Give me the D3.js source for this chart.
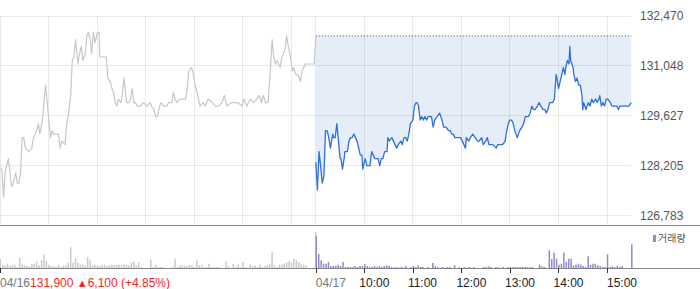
<!DOCTYPE html>
<html lang="ko">
<head>
<meta charset="UTF-8">
<title>Price chart</title>
<script src="https://d3js.org/d3.v7.min.js"></script>
<style>
  body { margin: 0; background: #fff; }
  svg { display: block; font-family: "Liberation Sans", Arial, "Noto Sans CJK KR", sans-serif; }
</style>
</head>
<body>
<svg id="chart" width="700" height="289"></svg>
<script>
  // y axis tick values and previous close
  const priceTicks = [132470, 131048, 129627, 128205, 126783];
  const prevClose = 131900;
  const sessionHours = [9, 10, 11, 12, 13, 14, 15];
  const dateLabels = ["04/16", "04/17"];
  const hourLabels = ["10:00", "11:00", "12:00", "13:00", "14:00", "15:00"];
  const changeText = "131,900";
  const changeArrow = "▲";
  const changeRest = "6,100 (+4.85%)";
  const legendLabel = "거래량";

  // [minutes since 09:00, price]  -- 04/16
  const day1 = [[0,128100],[2,128100],[4,127300],[6,128000],[10,128400],[14,127600],[16,127700],[19,128000],[21,127700],[23,127700],[25,128000],[27,129000],[29,129000],[31,128700],[35,128600],[39,128700],[41,129000],[45,129200],[47,129400],[49,129100],[52,129500],[54,130000],[56,130500],[58,130000],[60,129500],[62,129000],[64,129200],[66,129100],[70,129100],[72,129100],[74,128700],[76,128900],[80,128800],[82,129400],[84,129600],[87,130200],[89,131200],[91,131300],[93,131800],[96,131100],[98,131400],[100,131600],[102,131200],[105,131400],[107,131900],[109,132000],[111,131800],[113,131400],[115,132000],[117,131700],[120,132000],[122,132000],[123,131300],[128,131300],[131,131300],[133,130700],[136,130600],[138,130400],[140,130300],[142,130000],[144,129900],[146,130100],[149,130000],[150,130100],[153,130700],[156,130000],[159,130000],[161,130100],[163,130400],[165,130000],[167,130000],[169,129900],[173,129900],[177,130000],[181,129900],[185,130000],[187,129900],[190,129800],[192,129600],[194,129600],[197,129900],[199,130000],[202,129900],[206,129900],[208,130000],[212,130000],[214,130300],[216,130100],[218,130000],[222,130100],[227,130100],[229,130100],[231,130400],[233,130900],[236,131000],[238,130900],[240,130600],[243,130300],[245,130100],[247,129900],[251,130000],[253,129900],[257,130100],[262,130000],[266,129900],[270,129900],[274,130000],[277,130200],[280,129900],[286,130000],[293,130000],[299,129900],[301,130100],[305,129900],[309,130100],[313,130000],[317,130100],[320,130200],[323,130000],[325,130200],[328,130000],[331,130000],[334,131000],[336,131800],[338,131300],[340,131100],[342,131200],[344,131100],[346,131000],[348,131300],[350,131400],[352,131500],[354,131900],[356,131600],[358,131400],[361,130900],[363,131000],[365,130800],[368,130800],[371,130600],[373,130900],[375,131000],[377,131100],[388,131100],[390,131900]];

  // [minutes since 09:00, price]  -- 04/17
  const day2 = [[0,128300],[2,127500],[4,128600],[5,128400],[8,127700],[10,127900],[12,129200],[14,129200],[15,129100],[16,129000],[18,128700],[21,129100],[22,129000],[24,129000],[26,129400],[28,128900],[30,128400],[31,128400],[33,128100],[35,128400],[36,128600],[39,128600],[41,128900],[43,129000],[45,129000],[47,129100],[49,129000],[51,128900],[54,128600],[55,128500],[57,128500],[58,128100],[61,128400],[62,128300],[63,128200],[67,128200],[69,128600],[71,128500],[73,128400],[75,128400],[77,128400],[79,128200],[81,128400],[83,128400],[85,128600],[88,128600],[89,129000],[91,128900],[94,129000],[96,128900],[98,128800],[100,128700],[102,128800],[105,128900],[107,128800],[109,129000],[111,129000],[113,128900],[115,129100],[117,129400],[120,129500],[122,129900],[124,130000],[125,130000],[127,129900],[129,129500],[131,129600],[133,129500],[135,129600],[137,129500],[139,129600],[141,129600],[143,129600],[145,129300],[147,129500],[150,129600],[153,129700],[156,129500],[158,129300],[161,129300],[164,129200],[166,129200],[168,129100],[170,129100],[172,129000],[174,129000],[176,129000],[179,129000],[181,128900],[183,128800],[185,128700],[186,129000],[189,128900],[191,129000],[194,129100],[197,129000],[200,128900],[202,128900],[205,129000],[207,128800],[210,128900],[212,129000],[214,128800],[217,128800],[219,128800],[223,128700],[225,128800],[227,128800],[231,128800],[234,128900],[236,129200],[238,129400],[240,129500],[242,129500],[244,129400],[246,129200],[249,129000],[252,129200],[255,129300],[257,129400],[259,129600],[261,129600],[263,129600],[265,129700],[267,129900],[269,129800],[271,129800],[274,129900],[276,130000],[278,129900],[281,129800],[283,129800],[285,129700],[287,129800],[289,130000],[293,130000],[295,130100],[297,130800],[298,130700],[300,130400],[302,130600],[304,130800],[306,131000],[308,130800],[309,131000],[311,131200],[313,131100],[314,131600],[315,131200],[318,131000],[319,130800],[321,130600],[323,130700],[325,130500],[327,130500],[329,130200],[330,129800],[331,130000],[334,129800],[337,130000],[339,129900],[341,130100],[343,130000],[346,130100],[348,130000],[350,130100],[351,130200],[353,129900],[355,130000],[357,129900],[359,130100],[361,130100],[364,130000],[366,129900],[370,129900],[372,129900],[374,129800],[376,129900],[380,129900],[384,129900],[387,129900],[390,130000]];

  // volume per 3-minute slot (thousand shares), last slot = 15:30 close
  const day1Volume = [9,3.3,2.7,4.3,2,3.3,3.3,1,10,3.3, 2.7,2,1.5,4.3,4.3,6.7,2.7,7.7,13.3,6.7, 3.3,2,2,1,3.3,1,2,2.7,5.3,20.7, 5.3,10,5.3,3.3,3.3,2.7,11,7.7,2.7,3.3, 2.7,2,3.3,3.3,2,2.7,3.3,2.7,3.3,3.3, 2.7,3.3,3.3,2.7,5.3,6.7,2.7,6,1,0, 0,0,8.7,1,3.3,1,1,1,0,0, 0,1,9.3,1,2.7,2.7,2,2,3.3,2.7, 1,7.7,2.7,2.7,1,1,4.3,1,1,1, 1,0,0,6.7,2,0,4.3,1,3.3,1, 6,1,0,3.3,2,2.7,1,3.3,1,2, 2.7,4.3,16,3.3,1,3.3,3.3,4.3,5.3,6.7, 5.3,9.3,7.7,6,4.3,3.3,2.7,0,0,0,36];
  const day2Volume = [31.7,14,7.7,4.3,4.3,6,2,2,2,3.3, 2,6,1,1,1,1,2,1,2,2, 4,2,1,1,2,1,2,1,2,2.7, 2,1,0.5,1,0.5,1,0.5,2,0,1, 2,1,2.7,1,1,0,1,0,5,2, 1,0,1,0,1,1,0,2.7,0,1, 0,1,0,1,0,1,0,0,0,1, 1,1.7,1,0,1,1,0,1,0,1, 1,1,1,1,1,1,1,1,1,1, 0,0,3.3,1.7,1,0,17.7,9,15.3,9.3, 3.3,4.3,15.3,6,9.3,9.3,2.7,3.3,4.3,3.3, 2,1,11.7,3.3,4.3,4.3,2.7,2,1,1, 13.7,1,2,1,2,1,2,0,0,0,23.7];

  const sessionLen = 390;
  const slotMin = 3;

  const svg = d3.select("#chart");

  const x = d3.scaleLinear().domain([0, sessionLen * 2]).range([0.3, 631.3]);
  const y = d3.scaleLinear().domain([126783, 132470]).range([215.3, 16]);
  const yVol = d3.scaleLinear().domain([0, 42]).range([268, 226]);

  const plotRight = x(sessionLen * 2);

  // area between today's price and previous close
  const area = d3.area()
    .x(d => x(d[0] + sessionLen))
    .y0(y(prevClose))
    .y1(d => y(d[1]));

  svg.append("path")
    .datum(day2)
    .attr("d", area)
    .attr("fill", "#e5edf9");

  // grid
  const grid = svg.append("g")
    .attr("stroke", "#000")
    .attr("stroke-opacity", 0.08)
    .attr("shape-rendering", "crispEdges");

  grid.selectAll("line.h")
    .data(priceTicks)
    .join("line")
    .attr("class", "h")
    .attr("x1", 0).attr("x2", plotRight)
    .attr("y1", d => y(d)).attr("y2", d => y(d));

  const gridMinutes = [];
  [0, sessionLen].forEach(off => sessionHours.forEach(h => gridMinutes.push(off + (h - 9) * 60)));

  grid.selectAll("line.v")
    .data(gridMinutes)
    .join("line")
    .attr("class", "v")
    .attr("x1", d => x(d)).attr("x2", d => x(d))
    .attr("y1", y(132470)).attr("y2", 225);

  // previous close dotted line
  svg.append("line")
    .attr("x1", x(sessionLen)).attr("x2", plotRight)
    .attr("y1", y(prevClose)).attr("y2", y(prevClose))
    .attr("stroke", "#444")
    .attr("stroke-dasharray", "1,2");

  // price lines
  const line1 = d3.line().x(d => x(d[0])).y(d => y(d[1]));
  const line2 = d3.line().x(d => x(d[0] + sessionLen)).y(d => y(d[1]));

  svg.append("path")
    .datum(day1)
    .attr("d", line1)
    .attr("fill", "none")
    .attr("stroke", "#c6c7cb")
    .attr("stroke-width", 1.2)
    .attr("stroke-linejoin", "round");

  svg.append("path")
    .datum(day2)
    .attr("d", line2)
    .attr("fill", "none")
    .attr("stroke", "#2f6fdf")
    .attr("stroke-width", 1.3)
    .attr("stroke-linejoin", "round");

  // y axis labels
  svg.selectAll("text.ylab")
    .data(priceTicks)
    .join("text")
    .attr("class", "ylab")
    .attr("x", 640)
    .attr("y", d => y(d))
    .attr("dy", "0.35em")
    .attr("font-size", 12)
    .attr("fill", "#555")
    .text(d => d3.format(",")(d));

  // volume panel
  svg.append("g")
    .selectAll("rect")
    .data(day1Volume)
    .join("rect")
    .attr("x", (d, i) => x(i * slotMin) - 0.75)
    .attr("width", 1.5)
    .attr("y", d => yVol(d))
    .attr("height", d => yVol(0) - yVol(d))
    .attr("fill", "#c8c9cd");

  svg.append("g")
    .selectAll("rect")
    .data(day2Volume)
    .join("rect")
    .attr("x", (d, i) => x(sessionLen + i * slotMin) - 0.25)
    .attr("width", 1.5)
    .attr("y", d => yVol(d))
    .attr("height", d => yVol(0) - yVol(d))
    .attr("fill", "#9a87c7");

  // panel separator and time axis
  svg.append("line")
    .attr("x1", 0).attr("x2", 700)
    .attr("y1", 225.5).attr("y2", 225.5)
    .attr("stroke", "#80858c");

  svg.append("line")
    .attr("x1", 0).attr("x2", 700)
    .attr("y1", 268.5).attr("y2", 268.5)
    .attr("stroke", "#80858c");

  const tickMinutes = [0, sessionLen].concat(sessionHours.slice(1).map(h => sessionLen + (h - 9) * 60));

  svg.selectAll("line.tick")
    .data(tickMinutes)
    .join("line")
    .attr("class", "tick")
    .attr("x1", d => Math.round(x(d)) + 0.5).attr("x2", d => Math.round(x(d)) + 0.5)
    .attr("y1", 268).attr("y2", 273)
    .attr("stroke", "#333");

  // legend
  svg.append("rect")
    .attr("x", 653).attr("y", 235)
    .attr("width", 3).attr("height", 7)
    .attr("fill", "#9a87c7");

  svg.append("text")
    .attr("x", 658).attr("y", 242)
    .attr("font-size", 10)
    .attr("font-family", "'Noto Sans CJK KR', sans-serif")
    .attr("fill", "#555")
    .text(legendLabel);

  // bottom labels
  const first = svg.append("text")
    .attr("x", 0).attr("y", 287)
    .attr("font-size", 12);
  first.append("tspan").attr("fill", "#777").text(dateLabels[0]);
  first.append("tspan").attr("fill", "#ec2a2a").text(changeText + " ");
  first.append("tspan").attr("fill", "#ec2a2a").attr("font-size", 11).text(changeArrow);
  first.append("tspan").attr("fill", "#ec2a2a").text(changeRest);

  svg.append("text")
    .attr("x", x(sessionLen)).attr("y", 287)
    .attr("font-size", 12)
    .attr("fill", "#777")
    .text(dateLabels[1]);

  svg.selectAll("text.hour")
    .data(hourLabels)
    .join("text")
    .attr("class", "hour")
    .attr("x", (d, i) => x(sessionLen + (i + 1) * 60))
    .attr("dx", (d, i) => i === hourLabels.length - 1 ? 0 : -5)
    .attr("y", 287)
    .attr("font-size", 12)
    .attr("fill", "#222")
    .text(d => d);
</script>
</body>
</html>
